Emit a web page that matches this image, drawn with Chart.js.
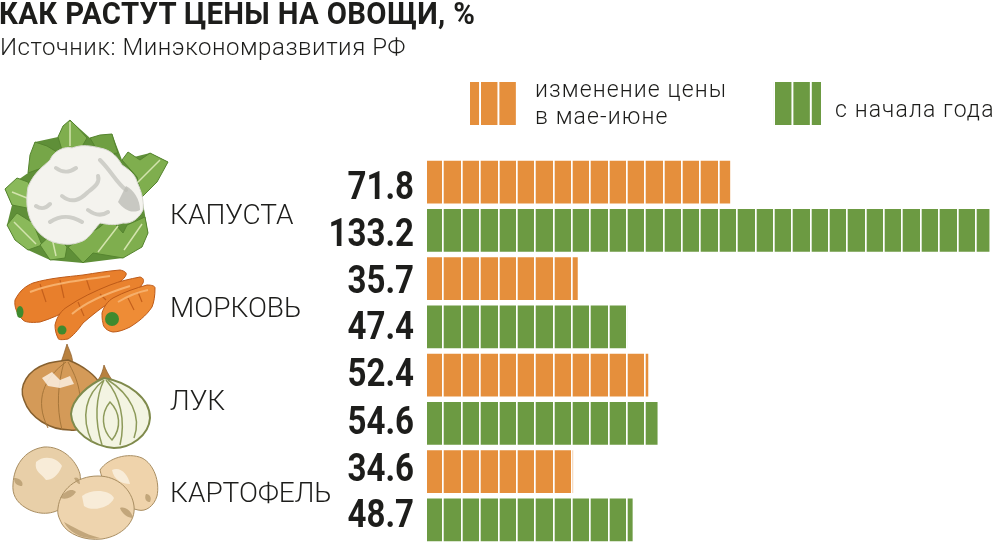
<!DOCTYPE html>
<html lang="ru">
<head>
<meta charset="utf-8">
<title>Как растут цены на овощи</title>
<script src="https://cdn.jsdelivr.net/npm/chart.js@4"></script>
<style>
  html, body { margin: 0; padding: 0; background: #fff; }
  #wrap { position: relative; width: 1000px; height: 552px; overflow: hidden; font-family: Roboto, "Noto Sans", sans-serif; color: #1d1d1b; }
  #wrap canvas { position: absolute; left: 0; top: 0; }
  #art { position: absolute; left: 0; top: 0; }
  .t { position: absolute; white-space: nowrap; }
  #title { left: -1px; top: -5px; font: bold 31px Roboto, sans-serif; letter-spacing: .35px; transform: scaleX(.946); transform-origin: left top; }
  #source { left: 0; top: 33px; font-size: 24px; font-weight: 300; letter-spacing: .55px; }
  .swatch { position: absolute; top: 82px; height: 43px; background-size: 18.4px 100%; }
  .lg { font-size: 23px; font-weight: 300; letter-spacing: 1.1px; line-height: 27px; }
</style>
</head>
<body>
<div id="wrap">
  <svg id="art" width="340" height="552" viewBox="0 0 340 552">
    <!-- капуста -->
    <path fill="#5f8f38" d="M28 173 L35 142 L58 137 L70 120 L90 138 L112 134 L122 160 L150 153 L168 162 L142 197 L148 233 L123 258 L83 263 L50 260 L28 250 L7 225 L12 205 L5 189Z"/>
    <g fill="#7fae4e" stroke="#55842f" stroke-width="1" stroke-linejoin="round">
      <path d="M58 137 L63 126 L70 120 L78 128 L87 138 L80 150 L62 150Z"/>
      <path d="M90 138 L100 135 L112 134 L115 144 L118 153 L100 155Z" fill="#6f9f42"/>
      <path d="M122 160 L128 152 L140 160 L150 153 L168 162 L157 182 L142 197 L137 177Z"/>
      <path d="M28 173 L30 155 L35 142 L47 146 L57 152 L50 165Z" fill="#76a648"/>
      <path d="M5 189 L17 178 L28 182 L37 197 L27 208 L12 205Z" fill="#8ab95a"/>
      <path d="M7 225 L17 213 L33 223 L42 245 L28 250 L15 240Z" fill="#8ab95a"/>
      <path d="M40 245 L53 233 L67 247 L65 258 L50 260Z" fill="#8ab95a"/>
      <path d="M68 247 L100 227 L110 218 L123 233 L127 225 L145 217 L148 233 L142 247 L123 258 L93 253 L83 263Z"/>
    </g>
    <path fill="none" stroke="#d3e4ad" stroke-width="1.5" d="M70 122 L70 146 M130 190 L160 160 M12 192 L32 200 M14 222 L36 244 M52 238 L56 256 M118 226 L98 252 M142 224 L124 250"/>
    <path fill="#f4f3ee" stroke="#dddcd6" d="M28 187 C34 172 44 166 50 160 C54 150 66 146 72 148 C82 144 92 146 100 148 C112 150 118 158 122 165 C130 170 136 176 137 182 C142 192 144 202 143 210 C138 220 130 224 123 223 C114 226 106 224 100 223 C92 232 88 240 80 242 C70 246 60 244 53 242 C42 238 36 230 32 223 C26 212 26 198 28 187Z"/>
    <g fill="none" stroke="#c9c9c3" stroke-width="4" stroke-linecap="round" stroke-linejoin="round" opacity=".85">
      <path d="M62 196 C72 204 80 200 88 192 C96 186 100 182 98 176"/>
      <path d="M100 160 C112 172 116 182 126 190"/>
      <path d="M50 222 C62 214 72 216 82 222 M88 210 C96 216 102 216 108 212"/>
      <path d="M56 168 C64 174 70 172 76 168 M36 206 C42 210 46 208 50 204"/>
    </g>
    <path fill="#bdbdb7" opacity=".8" d="M126 186 C134 190 140 200 140 210 C132 214 124 210 118 202Z"/>
    <!-- морковь -->
    <g stroke="#bd5a18" stroke-width="1" stroke-linejoin="round">
      <path fill="#e87f2c" d="M15 300 C20 290 26 286 33 283 C50 278 66 277 83 275 C96 273 108 271 120 270 C125 271 127 273 126 275 C124 280 118 283 113 285 C100 293 86 300 73 307 C62 314 50 319 40 322 C30 323 25 322 23 320 C17 314 14 307 15 300Z"/>
      <path fill="#e9822e" d="M55 325 C57 316 62 310 67 307 C80 298 95 291 110 285 C120 281 130 279 140 277 C144 278 144 281 143 283 C140 288 137 290 133 292 C122 297 112 302 103 307 C96 312 90 317 83 323 C78 330 73 336 68 339 C62 340 58 340 58 338 C56 334 55 330 55 325Z"/>
      <path fill="#ee8c36" d="M102 313 C104 306 108 301 113 298 C124 292 136 288 147 285 C152 285 155 286 155 288 C155 296 154 302 152 307 C146 316 138 322 130 327 C124 330 118 332 113 332 C107 331 103 327 103 323 C102 320 102 316 102 313Z"/>
    </g>
    <path fill="none" stroke="#c5601c" stroke-width="1.2" d="M40 284 L46 302 M60 280 L64 298 M86 278 L90 290 M78 302 L84 316 M100 294 L106 300 M128 298 L134 310 M138 292 L142 302"/>
    <path fill="none" stroke="#f6b06c" stroke-width="2" d="M30 292 C50 284 80 280 110 276 M72 314 C86 302 104 294 130 286 M118 302 C128 296 138 292 148 290"/>
    <ellipse cx="20" cy="312" rx="3.5" ry="6" fill="#3f8a2e"/><circle cx="112" cy="319" r="7" fill="#3f8a2e"/><circle cx="62" cy="330" r="4.5" fill="#3f8a2e"/>
    <!-- лук -->
    <path fill="#b8813f" stroke="#8b5a26" stroke-width=".7" d="M67 344 C69 350 72 354 73 364 L60 364 C63 358 65 350 67 344Z"/>
    <path fill="#d49a58" stroke="#86602f" stroke-width="1.5" d="M68 360 C84 366 96 376 100 384 L100 418 C90 428 80 431 70 430 C50 430 30 418 24 400 C18 386 28 370 46 364 C54 361 62 361 68 360Z"/>
    <path fill="none" stroke="#a6763a" stroke-width="1" d="M66 362 C44 378 34 400 48 428 M68 362 C78 380 84 396 78 428 M64 362 C58 384 56 406 62 430"/>
    <path fill="#fbf0e2" opacity=".85" d="M42 378 L52 372 L60 380 L70 376 L74 384 L60 388 L48 386Z"/>
    <path fill="#b8813f" stroke="#8b5a26" stroke-width=".7" d="M104 365 C106 370 108 374 112 380 L98 380 C101 376 103 370 104 365Z"/>
    <path fill="#f3f4e2" stroke="#7f8a4c" stroke-width="2" d="M104 378 C128 382 150 398 150 418 C149 436 130 448 114 448 C92 446 72 432 71 414 C72 398 90 384 104 378Z"/>
    <path fill="none" stroke="#8d9a5a" stroke-width="1.5" d="M104 380 C86 394 80 416 92 442 M104 380 C96 396 94 420 102 445 M106 380 C120 396 126 420 120 445 M108 380 C130 394 142 416 134 438 M110 402 C100 414 102 430 112 440 C122 428 120 412 110 402Z"/>
    <!-- картофель -->
    <g stroke="#a98e62" stroke-width="1" stroke-linejoin="round">
      <path fill="#efd3ab" d="M100 470 C108 458 128 452 142 458 C154 464 160 482 157 496 C154 506 146 512 138 510 C120 506 104 490 100 470Z"/>
      <path fill="#e8cfa8" d="M13 484 C14 466 24 450 44 447 C62 446 76 460 80 474 C82 488 76 500 62 508 C50 516 36 514 26 508 C16 502 12 494 13 484Z"/>
      <path fill="#eed4ae" d="M58 508 C60 490 76 476 98 476 C118 476 132 490 134 506 C136 522 122 536 102 539 C84 541 68 534 62 524 C59 518 57 514 58 508Z"/>
    </g>
    <path fill="#f8ecd8" d="M36 462 C44 454 58 458 62 466 C58 476 52 480 46 480 C42 474 34 472 36 462Z"/>
    <path fill="#f8ecd8" d="M82 496 C92 488 110 490 114 498 C110 508 92 512 84 506Z"/>
    <path fill="#f8ecd8" d="M112 470 C120 466 128 474 130 484 C122 484 114 480 112 470Z"/>
    <path fill="#b3976a" opacity=".75" d="M14 478 C20 478 24 482 22 486 C18 486 14 484 14 478Z M60 498 C66 490 72 488 76 492 C72 498 66 500 60 498Z M120 508 C126 506 132 512 133 518 C128 518 122 514 120 508Z M64 522 C72 526 84 534 100 538 C84 540 70 534 64 522Z M74 478 C76 482 78 484 80 484 C80 480 78 476 74 478Z M146 494 C150 494 152 498 150 502 C146 502 144 498 146 494Z"/>
  </svg>

  <canvas id="chart" width="1000" height="552"></canvas>

  <div class="t" id="title">КАК РАСТУТ ЦЕНЫ НА ОВОЩИ, %</div>
  <div class="t" id="source">Источник: Минэкономразвития РФ</div>
  <div class="swatch" style="left:470px;width:47px;background-position:11px 0;background-image:linear-gradient(90deg,#e58f3c 16.6px,#fff 16.6px)"></div>
  <div class="t lg" style="left:535px;top:76px">изменение цены<br>в мае-июне</div>
  <div class="swatch" style="left:773px;width:48px;background-position:2px 0;background-image:linear-gradient(90deg,#6c9a42 16.6px,#fff 16.6px)"></div>
  <div class="t lg" style="left:835px;top:96px">с начала года</div>
</div>

<script>
const categories = ['КАПУСТА', 'МОРКОВЬ', 'ЛУК', 'КАРТОФЕЛЬ'];
const mayJune = [71.8, 35.7, 52.4, 34.6];
const sinceJan = [133.2, 47.4, 54.6, 48.7];
const seriesNames = ['изменение цены в мае-июне', 'с начала года'];

// подписи в оригинале стоят не точно по центру полос
const nameShift = [11, 7, 4, -1];
const valueShift = [[7, 5, 1, 0], [6, 3, 1, -2]];

// первая белая линия и шаг ячеек, в единицах оси
const cellStart = 3.86;
const cellStep = 4.348;
const axisMax = 135.7;

const barLabels = {
    id: 'barLabels',
    afterDatasetsDraw(chart) {
        const ctx = chart.ctx;
        ctx.save();
        ctx.fillStyle = '#1d1d1b';
        ctx.textBaseline = 'middle';

        // значения слева от полос, шрифт сжат по ширине
        ctx.font = 'bold 38px Roboto, sans-serif';
        ctx.textAlign = 'right';
        chart.data.datasets.forEach(function (ds, i) {
            chart.getDatasetMeta(i).data.forEach(function (bar, j) {
                ctx.save();
                ctx.translate(414, bar.y + valueShift[i][j]);
                ctx.scale(0.87, 1);
                ctx.fillText(ds.data[j].toFixed(1), 0, 0);
                ctx.restore();
            });
        });

        // названия овощей
        ctx.font = '300 28px Roboto, sans-serif';
        ctx.textAlign = 'left';
        categories.forEach(function (name, j) {
            ctx.fillText(name, 170, chart.scales.y.getPixelForTick(j) + nameShift[j]);
        });
        ctx.restore();
    }
};

new Chart(document.getElementById('chart'), {
    type: 'bar',
    data: {
        labels: categories,
        datasets: [
            { label: seriesNames[0], data: mayJune, backgroundColor: '#e58f3c' },
            { label: seriesNames[1], data: sinceJan, backgroundColor: '#6c9a42' }
        ]
    },
    options: {
        indexAxis: 'y',
        responsive: false,
        animation: false,
        layout: { padding: { left: 427, top: 158, bottom: 8, right: 0 } },
        datasets: { bar: { categoryPercentage: 1, barPercentage: 0.885 } },
        plugins: { legend: { display: false }, tooltip: { enabled: false } },
        scales: {
            x: {
                min: 0,
                max: axisMax,
                // белая сетка поверх полос режет их на ячейки
                grid: { color: '#fff', lineWidth: 1.7, z: 1, drawTicks: false },
                border: { display: false },
                ticks: { display: false },
                afterBuildTicks(axis) {
                    const ticks = [];
                    for (let v = cellStart; v < axisMax; v += cellStep) ticks.push({ value: v });
                    axis.ticks = ticks;
                }
            },
            y: { display: false }
        }
    },
    plugins: [barLabels]
});
</script>
</body>
</html>
